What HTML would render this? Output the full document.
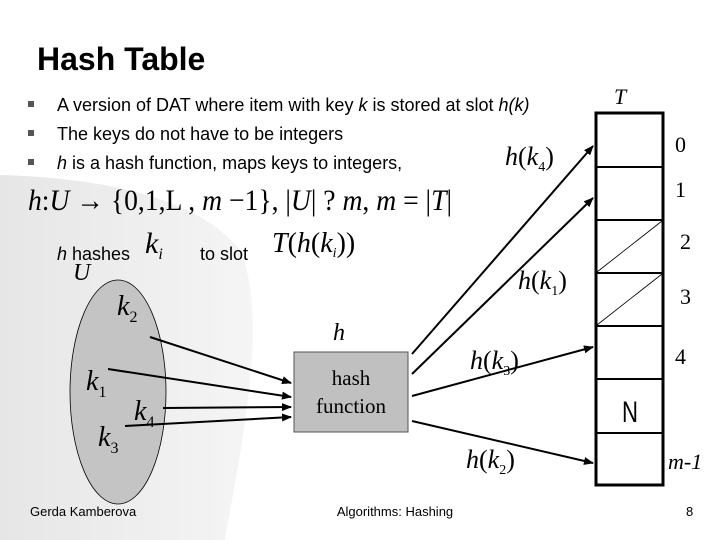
<!DOCTYPE html>
<html><head><meta charset="utf-8"><style>
html,body{margin:0;padding:0;background:#fff}
svg{display:block}
.s{font-family:"Liberation Sans",sans-serif}
.r{font-family:"Liberation Serif",serif}
</style></head><body>
<svg width="720" height="540" viewBox="0 0 720 540" xmlns="http://www.w3.org/2000/svg">
<defs>
<linearGradient id="bg" x1="0" y1="0" x2="1" y2="0">
<stop offset="0" stop-color="#e6e6e6"/><stop offset="1" stop-color="#f5f5f5"/>
</linearGradient>
<marker id="a" markerWidth="10" markerHeight="8" refX="9" refY="4" orient="auto" markerUnits="userSpaceOnUse">
<path d="M0,0 L10,4 L0,8 z" fill="#000"/></marker>
</defs>
<path d="M0,175 C110,178 200,200 240,250 C270,320 240,450 225,540 L0,540 z" fill="url(#bg)"/>
<text x="37" y="70" class="s" font-size="32" font-weight="bold">Hash Table</text>
<g class="s" font-size="18">
<rect x="28" y="101" width="6" height="6" fill="#555"/>
<rect x="28" y="130" width="6" height="6" fill="#555"/>
<rect x="28" y="159" width="6" height="6" fill="#555"/>
<text x="57" y="111">A version of DAT where item with key <tspan font-style="italic">k</tspan> is stored at slot <tspan font-style="italic">h(k)</tspan></text>
<text x="57" y="140">The keys do not have to be integers</text>
<text x="57" y="169"><tspan font-style="italic">h</tspan>  is a hash function, maps keys to integers,</text>
</g>
<text x="28" y="210" class="r" font-size="30" textLength="424" lengthAdjust="spacingAndGlyphs"><tspan font-style="italic">h</tspan>:<tspan font-style="italic">U</tspan> → {0,1,L  , <tspan font-style="italic">m</tspan> −1}, |<tspan font-style="italic">U</tspan>| ?  <tspan font-style="italic">m</tspan>, <tspan font-style="italic">m</tspan> = |<tspan font-style="italic">T</tspan>|</text>
<text x="57" y="260" class="s" font-size="18"><tspan font-style="italic">h</tspan> hashes</text>
<text x="145" y="253" class="r" font-size="30" font-style="italic">k<tspan font-size="16" dy="6">i</tspan></text>
<text x="200" y="260" class="s" font-size="18">to slot</text>
<text x="272" y="252" class="r" font-size="28"><tspan font-style="italic">T</tspan>(<tspan font-style="italic">h</tspan>(<tspan font-style="italic">k</tspan><tspan font-size="14" dy="5" font-style="italic">i</tspan><tspan dy="-5">))</tspan></text>
<text x="73" y="280" class="r" font-size="24" font-style="italic">U</text>
<ellipse cx="118" cy="392" rx="48" ry="112" fill="#c4c4c4" stroke="#000" stroke-width="0.8"/>
<g class="r" font-style="italic" font-size="28">
<text x="117" y="315">k<tspan font-size="16" dy="7" font-style="normal">2</tspan></text>
<text x="86" y="390">k<tspan font-size="16" dy="7" font-style="normal">1</tspan></text>
<text x="134" y="420">k<tspan font-size="16" dy="7" font-style="normal">4</tspan></text>
<text x="98" y="446">k<tspan font-size="16" dy="7" font-style="normal">3</tspan></text>
</g>
<rect x="294" y="352" width="114" height="80" fill="#c0c0c0" stroke="#555" stroke-width="1"/>
<text x="351" y="385" class="r" font-size="21" text-anchor="middle">hash</text>
<text x="351" y="413" class="r" font-size="21" text-anchor="middle">function</text>
<text x="333" y="340" class="r" font-size="24" font-style="italic">h</text>
<g stroke="#000" stroke-width="2" marker-end="url(#a)">
<line x1="150" y1="337" x2="291" y2="383"/>
<line x1="108" y1="369" x2="291" y2="397"/>
<line x1="163" y1="408" x2="291" y2="407"/>
<line x1="125" y1="426" x2="291" y2="417"/>
<line x1="412" y1="354" x2="593" y2="146"/>
<line x1="412" y1="374" x2="593" y2="198"/>
<line x1="412" y1="396" x2="593" y2="347"/>
<line x1="412" y1="421" x2="593" y2="463"/>
</g>
<g class="r" font-size="26">
<text x="505" y="165"><tspan font-style="italic">h</tspan>(<tspan font-style="italic">k</tspan><tspan font-size="14" dy="6">4</tspan><tspan dy="-6">)</tspan></text>
<text x="518" y="289"><tspan font-style="italic">h</tspan>(<tspan font-style="italic">k</tspan><tspan font-size="14" dy="6">1</tspan><tspan dy="-6">)</tspan></text>
<text x="470" y="369"><tspan font-style="italic">h</tspan>(<tspan font-style="italic">k</tspan><tspan font-size="14" dy="6">3</tspan><tspan dy="-6">)</tspan></text>
<text x="466" y="468"><tspan font-style="italic">h</tspan>(<tspan font-style="italic">k</tspan><tspan font-size="14" dy="6">2</tspan><tspan dy="-6">)</tspan></text>
</g>
<rect x="596" y="113" width="67" height="372" fill="#fff" stroke="#000" stroke-width="3"/>
<g stroke="#000" stroke-width="2">
<line x1="596" y1="167" x2="663" y2="167"/>
<line x1="596" y1="220" x2="663" y2="220"/>
<line x1="596" y1="273" x2="663" y2="273"/>
<line x1="596" y1="326" x2="663" y2="326"/>
<line x1="596" y1="379" x2="663" y2="379"/>
<line x1="596" y1="433" x2="663" y2="433"/>
</g>
<g stroke="#000" stroke-width="0.8">
<line x1="597" y1="272" x2="662" y2="221"/>
<line x1="597" y1="325" x2="662" y2="274"/>
</g>
<text x="630" y="422" class="s" font-size="30" text-anchor="middle" textLength="16" lengthAdjust="spacingAndGlyphs">N</text>
<g class="r" font-size="22">
<text x="614" y="104" font-style="italic">T</text>
<text x="675" y="152">0</text>
<text x="675" y="197">1</text>
<text x="680" y="249">2</text>
<text x="680" y="304">3</text>
<text x="675" y="364">4</text>
<text x="668" y="469" font-style="italic">m-1</text>
</g>
<g class="s" font-size="13">
<text x="30" y="516">Gerda Kamberova</text>
<text x="395" y="516" text-anchor="middle">Algorithms: Hashing</text>
<text x="686" y="516">8</text>
</g>
</svg>
</body></html>
